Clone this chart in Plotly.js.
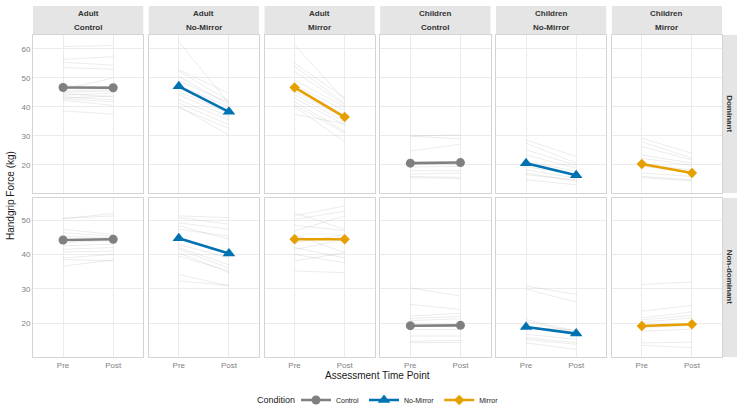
<!DOCTYPE html>
<html>
<head>
<meta charset="utf-8">
<script src="https://cdn.plot.ly/plotly-3.0.1.min.js"></script>
<style>
  html, body { margin: 0; padding: 0; background: #ffffff; }
  #chart { width: 742px; height: 409px; }
</style>
</head>
<body>
<div id="chart"></div>
<script>
// Facet labels and time points
const groups = ['Adult', 'Adult', 'Adult', 'Children', 'Children', 'Children'];
const conditions = ['Control', 'No-Mirror', 'Mirror', 'Control', 'No-Mirror', 'Mirror'];
const hands = ['Dominant', 'Non-dominant'];
const timePoints = ['Pre', 'Post'];

// Individual participants: [Pre, Post] handgrip force (kg)
const adultControlDom = [[60.8,61.2],[56.4,57.3],[55.4,54.4],[53.6,53.0],[46.0,50.0],[47.2,47.0],[45.5,46.0],[45.0,45.5],[44.6,43.5],[44.0,44.8],[43.5,42.5],[43.0,43.8],[42.8,41.8],[42.3,40.5],[38.6,37.5]];
const adultNoMirrorDom = [[62.5,41.3],[52.8,44.7],[52.4,42.0],[50.5,40.7],[49.0,41.5],[47.4,40.0],[46.5,38.5],[45.3,37.8],[44.2,36.6],[42.4,35.5],[41.3,33.8],[40.1,30.3],[39.8,32.6]];
const adultMirrorDom = [[61.4,42.4],[55.1,43.0],[54.0,41.3],[52.2,40.7],[49.3,40.0],[47.5,38.8],[45.3,36.1],[44.2,34.9],[43.0,33.8],[41.8,31.5],[40.7,30.9],[40.1,28.0],[37.4,34.2]];
const childControlDom = [[30.0,30.3],[29.9,29.0],[24.8,27.1],[20.8,20.9],[20.3,20.2],[19.3,19.5],[18.0,18.0],[16.8,17.2],[16.0,15.7],[15.6,15.3]];
const childNoMirrorDom = [[28.6,22.9],[27.5,20.6],[25.2,19.8],[23.4,18.9],[21.1,17.8],[19.4,16.6],[18.3,15.4],[17.2,14.3],[16.6,14.8],[14.9,13.1]];
const childMirrorDom = [[29.2,24.0],[28.0,22.3],[26.3,21.7],[23.4,20.6],[22.3,19.8],[20.0,18.3],[19.5,17.6],[17.2,16.0],[16.0,14.9],[15.6,14.5]];

const adultControlNondom = [[50.4,51.9],[50.5,51.2],[47.3,45.8],[46.3,45.3],[45.3,44.8],[44.0,44.8],[43.5,44.0],[42.5,43.0],[41.5,42.0],[40.7,41.0],[39.0,40.0],[38.6,38.1],[36.6,38.4]];
const adultNoMirrorNondom = [[51.2,50.7],[50.7,48.8],[49.2,47.3],[48.3,44.4],[47.3,45.3],[42.9,39.0],[42.0,37.0],[41.5,36.0],[40.5,34.7],[39.5,35.2],[34.2,30.8],[32.3,31.0]];
const adultMirrorNondom = [[52.1,47.3],[51.2,54.1],[50.2,52.6],[48.5,46.9],[46.8,51.2],[45.8,40.5],[43.4,45.8],[42.0,39.0],[41.4,44.4],[40.0,37.6],[38.1,40.5],[35.2,34.7]];
const childControlNondom = [[30.3,27.9],[25.5,24.0],[22.1,22.9],[21.4,22.0],[20.8,21.3],[18.2,18.2],[16.3,16.3],[14.8,15.0],[14.4,14.4]];
const childNoMirrorNondom = [[30.8,28.4],[29.9,26.2],[21.1,17.7],[20.6,17.3],[18.7,18.1],[16.8,15.3],[15.8,14.4],[15.3,13.9],[14.3,12.4]];
const childMirrorNondom = [[31.3,32.0],[23.5,25.2],[21.6,23.3],[21.0,22.3],[20.3,21.6],[18.8,19.3],[17.7,18.3],[14.3,14.5],[13.6,12.9]];

// Group means (kg) per facet column, Pre and Post
const meanDomPre = [46.7, 47.1, 46.7, 20.6, 20.6, 20.3];
const meanDomPost = [46.6, 38.3, 36.5, 20.8, 16.4, 17.2];
const meanNondomPre = [44.2, 44.7, 44.4, 19.3, 18.9, 19.2];
const meanNondomPost = [44.4, 40.3, 44.4, 19.4, 17.0, 19.7];

const participants = [
  [adultControlDom, adultNoMirrorDom, adultMirrorDom, childControlDom, childNoMirrorDom, childMirrorDom],
  [adultControlNondom, adultNoMirrorNondom, adultMirrorNondom, childControlNondom, childNoMirrorNondom, childMirrorNondom]
];
const means = [[meanDomPre, meanDomPost], [meanNondomPre, meanNondomPost]];

const condStyle = {
  'Control':   { color: '#808080', symbol: 'circle', size: 9 },
  'No-Mirror': { color: '#0072B2', symbol: 'triangle-up', size: 11 },
  'Mirror':    { color: '#E69F00', symbol: 'diamond', size: 8 }
};

// Page geometry (pixels)
const W = 742, H = 409;
const panelLeft0 = 33, panelW = 110.25, panelGap = 5.5;
const rowTop = [35, 198], rowBottom = [193, 357];
const yRanges = [[10.3, 64.8], [10.2, 56.4]];
const FONT = 'Liberation Sans, Arial, sans-serif';

const traces = [];
const layout = {
  width: W, height: H,
  margin: { l: 0, r: 0, t: 0, b: 0, autoexpand: false },
  paper_bgcolor: '#ffffff',
  plot_bgcolor: '#ffffff',
  font: { family: FONT, color: '#333333' },
  showlegend: true,
  legend: {
    orientation: 'h',
    x: 296 / W, xanchor: 'left',
    y: 9 / H, yanchor: 'middle',
    font: { size: 7, color: '#1a1a1a' },
    itemwidth: 30,
    tracegroupgap: 0,
    bgcolor: 'rgba(0,0,0,0)'
  },
  shapes: [],
  annotations: []
};

const seenLegend = {};

for (let r = 0; r < 2; r++) {
  for (let c = 0; c < 6; c++) {
    const k = r * 6 + c + 1;
    const xa = 'x' + (k === 1 ? '' : k);
    const ya = 'y' + (k === 1 ? '' : k);
    const x0 = panelLeft0 + c * (panelW + panelGap);
    const x1 = x0 + panelW;

    layout['xaxis' + (k === 1 ? '' : k)] = {
      domain: [x0 / W, x1 / W],
      anchor: ya,
      type: 'category',
      categoryorder: 'array',
      categoryarray: timePoints,
      range: [-0.6, 1.6],
      showgrid: true, gridcolor: '#ebebeb', gridwidth: 1,
      zeroline: false,
      showline: true, mirror: true, linecolor: '#d4d4d4', linewidth: 1,
      ticks: '',
      showticklabels: r === 1,
      tickfont: { size: 8, color: '#7f7f7f' },
      fixedrange: true
    };
    layout['yaxis' + (k === 1 ? '' : k)] = {
      domain: [1 - rowBottom[r] / H, 1 - rowTop[r] / H],
      anchor: xa,
      range: yRanges[r],
      dtick: 10,
      tick0: 0,
      showgrid: true, gridcolor: '#ebebeb', gridwidth: 1,
      zeroline: false,
      showline: true, mirror: true, linecolor: '#d4d4d4', linewidth: 1,
      ticks: '',
      showticklabels: c === 0,
      tickfont: { size: 8, color: '#7f7f7f' },
      fixedrange: true
    };

    // Individual participant trajectories
    participants[r][c].forEach(p => {
      traces.push({
        type: 'scatter', mode: 'lines',
        x: timePoints, y: p,
        xaxis: xa, yaxis: ya,
        line: { color: 'rgba(150,150,150,0.3)', width: 0.6 },
        hoverinfo: 'skip', showlegend: false
      });
    });

    // Group mean trajectory
    const cond = conditions[c];
    const st = condStyle[cond];
    const show = !seenLegend[cond];
    seenLegend[cond] = true;
    traces.push({
      type: 'scatter', mode: 'lines+markers',
      name: cond,
      legendgroup: cond,
      showlegend: show,
      x: timePoints,
      y: [means[r][0][c], means[r][1][c]],
      xaxis: xa, yaxis: ya,
      line: { color: st.color, width: 2.6 },
      marker: { color: st.color, symbol: st.symbol, size: st.size }
    });

    // Column strips (top row only)
    if (r === 0) {
      layout.shapes.push({
        type: 'rect', xref: 'paper', yref: 'paper',
        x0: x0 / W, x1: x1 / W, y0: 1 - 35 / H, y1: 1 - 6 / H,
        fillcolor: '#e5e5e5', line: { width: 0 }, layer: 'below'
      });
      layout.annotations.push({
        xref: 'paper', yref: 'paper', x: (x0 + x1) / 2 / W, y: 1 - 13.5 / H,
        text: '<b>' + groups[c] + '</b>', showarrow: false,
        font: { size: 8, color: '#333333' }, xanchor: 'center', yanchor: 'middle'
      });
      layout.annotations.push({
        xref: 'paper', yref: 'paper', x: (x0 + x1) / 2 / W, y: 1 - 28 / H,
        text: '<b>' + conditions[c] + '</b>', showarrow: false,
        font: { size: 8, color: '#333333' }, xanchor: 'center', yanchor: 'middle'
      });
    }
  }

  // Row strips on the right
  layout.shapes.push({
    type: 'rect', xref: 'paper', yref: 'paper',
    x0: 722.5 / W, x1: 737 / W, y0: 1 - rowBottom[r] / H, y1: 1 - rowTop[r] / H,
    fillcolor: '#e5e5e5', line: { width: 0 }, layer: 'below'
  });
  layout.annotations.push({
    xref: 'paper', yref: 'paper', x: 729.8 / W, y: 1 - (rowTop[r] + rowBottom[r]) / 2 / H,
    text: '<b>' + hands[r] + '</b>', showarrow: false, textangle: 90,
    font: { size: 8, color: '#333333' }, xanchor: 'center', yanchor: 'middle'
  });
}

// Axis titles and legend heading
layout.annotations.push({
  xref: 'paper', yref: 'paper', x: 10 / W, y: 1 - 196 / H,
  text: 'Handgrip Force (kg)', showarrow: false, textangle: -90,
  font: { size: 10, color: '#1a1a1a' }, xanchor: 'center', yanchor: 'middle'
});
layout.annotations.push({
  xref: 'paper', yref: 'paper', x: 377.5 / W, y: 1 - 375.5 / H,
  text: 'Assessment Time Point', showarrow: false,
  font: { size: 10, color: '#1a1a1a' }, xanchor: 'center', yanchor: 'middle'
});
layout.annotations.push({
  xref: 'paper', yref: 'paper', x: 297 / W, y: 1 - 400 / H,
  text: 'Condition', showarrow: false,
  font: { size: 9, color: '#1a1a1a' }, xanchor: 'right', yanchor: 'middle'
});

Plotly.newPlot('chart', traces, layout, { displayModeBar: false, staticPlot: true });
</script>
</body>
</html>
